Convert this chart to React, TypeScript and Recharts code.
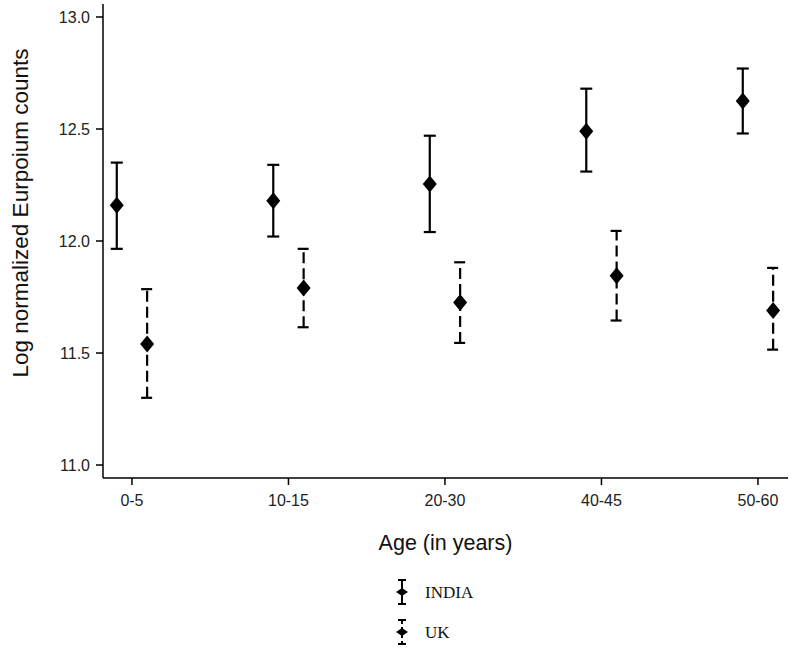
import React from 'react';
import { ScatterChart, Scatter, XAxis, YAxis, ErrorBar, Legend, Label } from 'recharts';

const AGE_GROUPS = ['0-5', '10-15', '20-30', '40-45', '50-60'];
const INDIA_MEAN = [12.16, 12.18, 12.255, 12.49, 12.625];
const INDIA_LOWER = [11.965, 12.02, 12.04, 12.31, 12.48];
const INDIA_UPPER = [12.35, 12.34, 12.47, 12.68, 12.77];
const UK_MEAN = [11.54, 11.79, 11.725, 11.845, 11.69];
const UK_LOWER = [11.3, 11.615, 11.545, 11.645, 11.515];
const UK_UPPER = [11.785, 11.965, 11.905, 12.045, 11.88];
const Y_TICKS = [11.0, 11.5, 12.0, 12.5, 13.0];
const X_TICKS = AGE_GROUPS.map((_, i) => i);

const DODGE = 0.097;

const build = (mean: number[], lower: number[], upper: number[], shift: number) =>
  mean.map((m, i) => ({
    x: i + shift,
    y: m,
    err: [m - lower[i], upper[i] - m],
  }));

const indiaData = build(INDIA_MEAN, INDIA_LOWER, INDIA_UPPER, -DODGE);
const ukData = build(UK_MEAN, UK_LOWER, UK_UPPER, DODGE);

const Diamond = (props: any) => {
  const { cx, cy } = props;
  if (cx == null || cy == null) return null;
  return (
    <polygon
      points={`${cx},${cy - 8.5} ${cx + 7},${cy} ${cx},${cy + 8.5} ${cx - 7},${cy}`}
      fill="#000"
    />
  );
};

const LegendIcon = ({ y, dashed }: { y: number; dashed: boolean }) => {
  const cx = 402;
  return (
    <g>
      <line x1={cx} x2={cx} y1={y - 12} y2={y + 12} stroke="#000" strokeWidth={2} strokeDasharray={dashed ? '4 3' : undefined} />
      <line x1={cx - 4} x2={cx + 4} y1={y - 12} y2={y - 12} stroke="#000" strokeWidth={2} />
      <line x1={cx - 4} x2={cx + 4} y1={y + 12} y2={y + 12} stroke="#000" strokeWidth={2} />
      <polygon points={`${cx},${y - 4} ${cx + 6},${y} ${cx},${y + 4} ${cx - 6},${y}`} fill="#000" />
    </g>
  );
};

const CustomLegend = () => (
  <svg width={792} height={82} style={{ display: 'block' }}>
    <LegendIcon y={22} dashed={false} />
    <text x={425} y={22} dominantBaseline="central" fontFamily="'Liberation Serif', serif" fontSize={17} fill="#111">
      INDIA
    </text>
    <LegendIcon y={62} dashed={true} />
    <text x={425} y={62} dominantBaseline="central" fontFamily="'Liberation Serif', serif" fontSize={17} fill="#111">
      UK
    </text>
  </svg>
);

const YTitle = () => {
  const x = 20;
  const y = 213;
  return (
    <text
      x={x}
      y={y}
      transform={`rotate(-90, ${x}, ${y})`}
      textAnchor="middle"
      dominantBaseline="central"
      fontFamily="'Liberation Sans', Arial, sans-serif"
      fontSize={22.5}
      fill="#111"
    >
      Log normalized Eurpoium counts
    </text>
  );
};

const tickStyle = { fontFamily: "'Liberation Sans', Arial, sans-serif", fontSize: 16, fill: '#222' };

export default function App() {
  return (
    <div style={{ position: 'absolute', left: 0, top: 0, width: 792, height: 652, background: '#fff' }}>
      <ScatterChart width={792} height={652} margin={{ top: 4, right: 4, left: 0, bottom: 94 }}>
        <XAxis
          type="number"
          dataKey="x"
          domain={[-0.185, 4.192]}
          ticks={X_TICKS}
          tickFormatter={(v: number) => AGE_GROUPS[Math.round(v)] ?? ''}
          allowDataOverflow
          height={80}
          axisLine={{ stroke: '#000', strokeWidth: 1.5 }}
          tickLine={{ stroke: '#000', strokeWidth: 1.5 }}
          tickSize={7}
          tickMargin={10}
          tick={tickStyle}
          interval={0}
        >
          <Label
            value="Age (in years)"
            position="insideBottom"
            offset={8}
            style={{ fontFamily: "'Liberation Sans', Arial, sans-serif", fontSize: 21.5, fill: '#111' }}
          />
        </XAxis>
        <YAxis
          type="number"
          dataKey="y"
          domain={[10.942, 13.058]}
          ticks={Y_TICKS}
          tickFormatter={(v: number) => v.toFixed(1)}
          allowDataOverflow
          width={103}
          axisLine={{ stroke: '#000', strokeWidth: 1.5 }}
          tickLine={{ stroke: '#000', strokeWidth: 1.5 }}
          tickSize={7}
          tickMargin={6}
          tick={tickStyle}
          interval={0}
        >
          <Label content={<YTitle />} />
        </YAxis>
        <Legend
          layout="horizontal"
          verticalAlign="middle"
          align="center"
          content={<CustomLegend />}
          wrapperStyle={{ position: 'absolute', top: 570, left: 0, width: 792, height: 82 }}
        />
        <Scatter name="INDIA" data={indiaData} shape={<Diamond />} isAnimationActive={false} legendType="none">
          <ErrorBar dataKey="err" direction="y" width={6} stroke="#000" strokeWidth={2.2} />
        </Scatter>
        <Scatter name="UK" data={ukData} shape={<Diamond />} isAnimationActive={false} legendType="none">
          <ErrorBar dataKey="err" direction="y" width={6} stroke="#000" strokeWidth={2.2} strokeDasharray="11 5" />
        </Scatter>
      </ScatterChart>
    </div>
  );
}
